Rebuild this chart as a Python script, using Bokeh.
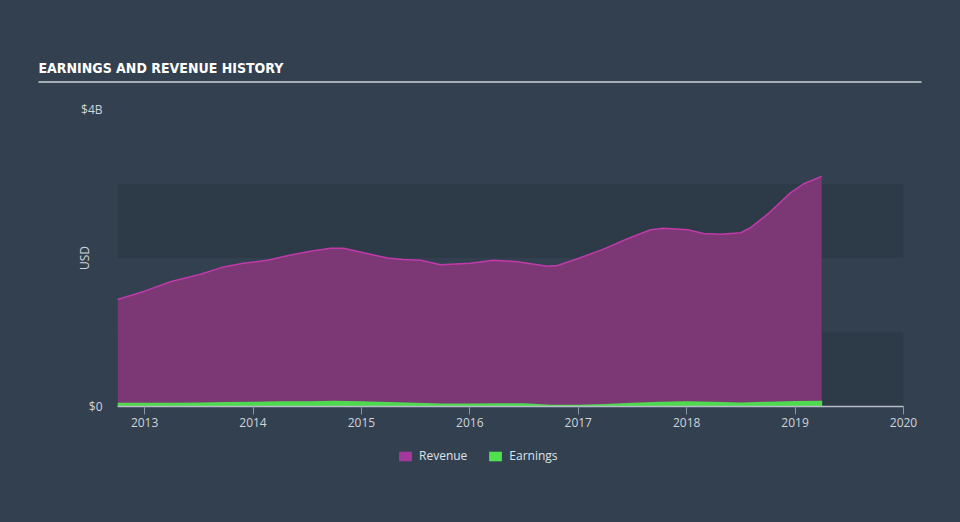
from bokeh.plotting import figure
from bokeh.layouts import column
from bokeh.models import (ColumnDataSource, FixedTicker, CustomJSTickFormatter,
                          BoxAnnotation, Legend, LegendItem, Range1d)
from bokeh.core.properties import value
from bokeh.embed import file_html
from bokeh.resources import INLINE

# ---- data (decimal years, values in billions USD) ----
revenue_dates = [2012.750, 2012.993, 2013.239, 2013.516, 2013.728, 2013.912, 2014.134,
                 2014.346, 2014.530, 2014.715, 2014.835, 2015.020, 2015.241, 2015.388,
                 2015.545, 2015.730, 2016.006, 2016.218, 2016.440, 2016.717, 2016.809,
                 2016.993, 2017.233, 2017.454, 2017.667, 2017.787, 2018.009, 2018.156,
                 2018.313, 2018.498, 2018.590, 2018.747, 2018.959, 2019.079, 2019.245]
revenue_bn = [1.44, 1.55, 1.68, 1.78, 1.88, 1.93, 1.97,
              2.04, 2.09, 2.13, 2.13, 2.07, 2.00, 1.98,
              1.97, 1.91, 1.93, 1.97, 1.95, 1.89, 1.90,
              1.99, 2.12, 2.26, 2.38, 2.40, 2.38, 2.33,
              2.32, 2.34, 2.41, 2.59, 2.88, 3.00, 3.10]
earnings_dates = [2012.75, 2013.0, 2013.25, 2013.5, 2013.75, 2014.0, 2014.25, 2014.5,
                  2014.75, 2015.0, 2015.25, 2015.5, 2015.75, 2016.0, 2016.25, 2016.5,
                  2016.75, 2017.0, 2017.25, 2017.5, 2017.75, 2018.0, 2018.25, 2018.5,
                  2018.75, 2019.0, 2019.25]
earnings_bn = [0.05, 0.05, 0.05, 0.055, 0.06, 0.065, 0.07, 0.07,
               0.077, 0.07, 0.06, 0.05, 0.04, 0.04, 0.045, 0.045,
               0.025, 0.025, 0.035, 0.05, 0.065, 0.072, 0.065, 0.055,
               0.065, 0.075, 0.078]
year_ticks = [2013, 2014, 2015, 2016, 2017, 2018, 2019, 2020]
y_ticks = [0, 4e9]
series_names = ["Revenue", "Earnings"]
series_colors = ["#a4389d", "#4ee24e"]
title_text = "EARNINGS AND REVENUE HISTORY"

BG = "#334050"
BAND = "#2d3a48"
TXT = "#cfd5db"


def bare(fig):
    fig.background_fill_color = BG
    fig.border_fill_color = BG
    fig.outline_line_color = BG
    fig.outline_line_alpha = 1.0
    fig.outline_line_width = 1
    fig.xgrid.visible = False
    fig.ygrid.visible = False
    props = fig.properties()
    if "frame_align" in props:
        fig.frame_align = False
    if "border_line_color" in props:
        fig.border_line_color = BG
        fig.border_line_alpha = 1.0
    fig.styles = {"border": "none", "outline": "none", "box-shadow": "none"}
    return fig


# ---------------- header (title + rule) ----------------
head = bare(figure(width=960, height=90, output_backend="svg", toolbar_location=None,
                   x_range=Range1d(0, 960), y_range=Range1d(90, 0),
                   x_axis_location=None, y_axis_location=None, min_border=0))
head.text(x=[38], y=[67], text=[title_text], text_font=value("DejaVu Sans Condensed"),
          text_font_style="bold", text_font_size="14px", text_color="#ffffff",
          text_baseline="middle", text_align="left")
head.segment(x0=[38], x1=[921], y0=[81.5], y1=[81.5], line_color="#a5adb5", line_width=2)

# ---------------- main chart ----------------
rsrc = ColumnDataSource(dict(x=revenue_dates, zero=[0.0] * len(revenue_dates),
                             v=[b * 1e9 for b in revenue_bn]))
esrc = ColumnDataSource(dict(x=earnings_dates, zero=[0.0] * len(earnings_dates),
                             v=[b * 1e9 for b in earnings_bn]))

p = bare(figure(width=960, height=350, output_backend="svg", toolbar_location=None,
                x_range=Range1d(2012.75, 2020.0), y_range=Range1d(0, 4e9),
                min_border_left=117, min_border_right=57, min_border_top=19,
                min_border_bottom=34))

for lo, hi in [(0, 1e9), (2e9, 3e9)]:
    p.add_layout(BoxAnnotation(bottom=lo, top=hi, fill_color=BAND, fill_alpha=1.0,
                               line_color=None, level="underlay"))

p.varea(x="x", y1="zero", y2="v", source=rsrc, fill_color="#7b3874", fill_alpha=1.0)
p.line(x="x", y="v", source=rsrc, line_color="#c03aa9", line_width=1.5)
p.varea(x="x", y1="zero", y2="v", source=esrc, fill_color="#4fd94f", fill_alpha=1.0)

xa = p.xaxis[0]
xa.ticker = FixedTicker(ticks=year_ticks)
xa.formatter = CustomJSTickFormatter(code="return tick.toFixed(0)")
xa.axis_line_color = "#b5bdc6"
xa.axis_line_width = 1.5
xa.major_tick_line_color = "#8b96a2"
xa.major_tick_out = 8
xa.major_tick_in = 0
xa.minor_tick_line_color = None
xa.major_label_text_color = TXT
xa.major_label_text_font = "Open Sans"
xa.major_label_text_font_size = "12px"
xa.major_label_standoff = 3

ya = p.yaxis[0]
ya.ticker = FixedTicker(ticks=y_ticks)
ya.formatter = CustomJSTickFormatter(
    code="return tick == 0 ? '$0' : '$' + (tick / 1e9).toFixed(0) + 'B'")
ya.axis_line_color = None
ya.major_tick_line_color = None
ya.major_tick_out = 0
ya.major_tick_in = 0
ya.minor_tick_line_color = None
ya.major_label_text_color = TXT
ya.major_label_text_font = "Open Sans"
ya.major_label_text_font_size = "12px"
ya.major_label_standoff = 15
ya.axis_label = "USD"
ya.axis_label_text_color = TXT
ya.axis_label_text_font = "Open Sans"
ya.axis_label_text_font_style = "normal"
ya.axis_label_text_font_size = "12px"
ya.axis_label_standoff = -15

# ---------------- footer (legend) ----------------
foot = bare(figure(width=960, height=82, output_backend="svg", toolbar_location=None,
                   x_range=Range1d(0, 1), y_range=Range1d(0, 1),
                   x_axis_location=None, y_axis_location=None, min_border=0))
items = []
for name, col in zip(series_names, series_colors):
    # zero-size proxy quad: only its legend swatch is visible
    proxy = foot.quad(left=[0], right=[0], top=[0], bottom=[0],
                      fill_color=col, line_color=None)
    items.append(LegendItem(label=name, renderers=[proxy]))
legend = Legend(items=items, orientation="horizontal", location=(397, 58),
                background_fill_alpha=0, border_line_color=None,
                label_text_color="#dfe3e7", label_text_font="Open Sans",
                label_text_font_size="12px", glyph_width=16, glyph_height=12,
                spacing=20, label_standoff=6, padding=4, margin=0)
foot.add_layout(legend, "center")

layout = column(head, p, foot, spacing=0)
layout.styles = {"background-color": BG}
open("out.html", "w").write(file_html(layout, INLINE))
